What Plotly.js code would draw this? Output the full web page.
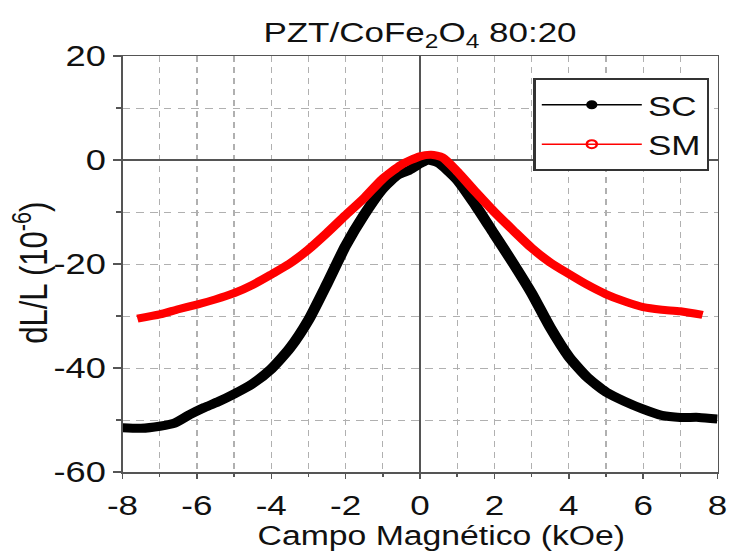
<!DOCTYPE html>
<html>
<head>
<meta charset="utf-8">
<script src="https://cdn.plot.ly/plotly-3.0.1.min.js"></script>
<style>
  html, body { margin: 0; padding: 0; background: #fff; overflow: hidden; }
  #wrap { width: 733px; height: 551px; overflow: hidden; }
  #plot { width: 586px; height: 551px; transform: scaleX(1.25); transform-origin: 0 0; }
</style>
</head>
<body>
<div id="wrap"><div id="plot"></div></div>
<script>
// Magnetic field (kOe) and dL/L (10^-6)
const fieldSC = [-8, -7.5, -7, -6.6, -6.2, -5.8, -5.4, -5, -4.5, -4, -3.5, -3, -2.5, -2, -1.5, -1, -0.6, -0.3, 0, 0.2, 0.5, 1, 1.5, 2, 2.5, 3, 3.5, 4, 4.5, 5, 5.5, 6, 6.5, 7, 7.5, 8];
const dlSC = [-51.5, -51.6, -51.2, -50.6, -49.0, -47.6, -46.4, -45.0, -43.0, -40.2, -36.2, -30.8, -23.8, -16.5, -10.5, -5.5, -2.9, -2.0, -0.7, 0, -0.6, -3.8, -8.8, -14.3, -19.8, -25.6, -32.2, -37.8, -41.8, -44.6, -46.4, -47.9, -49.1, -49.5, -49.5, -49.8];

const fieldSM = [-7.6, -7, -6.5, -6, -5.5, -5, -4.5, -4, -3.5, -3, -2.5, -2, -1.5, -1, -0.5, 0, 0.3, 0.6, 1, 1.5, 2, 2.5, 3, 3.5, 4, 4.5, 5, 5.5, 6, 6.5, 7, 7.6];
const dlSM = [-30.5, -29.7, -28.7, -27.8, -26.8, -25.6, -24.0, -22.0, -19.9, -17.2, -14.0, -10.6, -7.3, -3.6, -0.9, 0.7, 1.0, 0.5, -2.2, -6.2, -10.0, -13.5, -16.9, -19.7, -21.9, -24.0, -25.8, -27.2, -28.3, -28.8, -29.1, -29.8];

const xTickVals = [-8, -6, -4, -2, 0, 2, 4, 6, 8];
const xTickText = ['-8', '-6', '-4', '-2', '0', '2', '4', '6', '8'];
const yTickVals = [-60, -40, -20, 0, 20];
const yTickText = ['-60', '-40', '-20', '0', '20'];

const seriesNames = ['SC', 'SM'];
const titleText = 'PZT/CoFe<sub>2</sub>O<sub>4</sub> 80:20';
const xTitle = 'Campo Magnético (kOe)';
const yTitle = 'dL/L (10<sup>-6</sup>)';

const FONT = 'Liberation Sans, Arial, Helvetica, sans-serif';

const traces = [
  {x: fieldSC, y: dlSC, mode: 'lines', line: {color: '#000', width: 9, shape: 'spline', smoothing: 0.6},
   showlegend: false, hoverinfo: 'skip'},
  {x: fieldSM, y: dlSM, mode: 'lines', line: {color: '#ff0000', width: 8, shape: 'spline', smoothing: 0.6},
   showlegend: false, hoverinfo: 'skip'},
  {x: [null], y: [null], mode: 'lines+markers', name: seriesNames[0],
   line: {color: '#000', width: 1.5}, marker: {color: '#000', size: 9, symbol: 'circle'}},
  {x: [null], y: [null], mode: 'lines+markers', name: seriesNames[1],
   line: {color: '#ff0000', width: 1.5}, marker: {color: '#ff0000', size: 8, symbol: 'circle-open', line: {width: 2, color: '#ff0000'}}}
];

const gridCol = '#b0b0b0';
const layout = {
  width: 586, height: 551,
  margin: {l: 97.6, r: 12, t: 56, b: 79, pad: 0},
  paper_bgcolor: '#fff', plot_bgcolor: '#fff',
  font: {family: FONT, color: '#111'},
  showlegend: true,
  title: {text: titleText, font: {family: FONT, size: 28, color: '#111'},
          x: 0.5, xref: 'paper', xanchor: 'center', y: 1 - 32/551, yref: 'container', yanchor: 'middle'},
  xaxis: {
    range: [-8, 8], tickmode: 'array', tickvals: xTickVals, ticktext: xTickText,
    showline: true, linecolor: '#555', linewidth: 1.5, mirror: true,
    ticks: 'outside', ticklen: 5, tickcolor: '#555', tickwidth: 1.2, ticklabelstandoff: 3,
    tickfont: {family: FONT, size: 28, color: '#111'},
    showgrid: true, gridcolor: gridCol, gridwidth: 1, griddash: '6px,5px',
    zeroline: true, zerolinecolor: '#555', zerolinewidth: 1.5,
    minor: {dtick: 1, tick0: 0, ticks: 'outside', ticklen: 3, tickcolor: '#555', showgrid: true, gridcolor: gridCol, gridwidth: 1, griddash: '6px,5px'},
    automargin: false, fixedrange: true
  },
  yaxis: {
    range: [-60, 20], tickmode: 'array', tickvals: yTickVals, ticktext: yTickText,
    showline: true, linecolor: '#555', linewidth: 1.5, mirror: true,
    ticks: 'outside', ticklen: 6, tickcolor: '#555', tickwidth: 1.2,
    tickfont: {family: FONT, size: 29, color: '#111'},
    showgrid: true, gridcolor: gridCol, gridwidth: 1, griddash: '6px,5px',
    zeroline: true, zerolinecolor: '#555', zerolinewidth: 1.5,
    minor: {dtick: 10, tick0: 0, ticks: 'outside', ticklen: 4, tickcolor: '#555', showgrid: true, gridcolor: gridCol, gridwidth: 1, griddash: '6px,5px'},
    automargin: false, fixedrange: true
  },
  annotations: [
    {text: xTitle, xref: 'paper', yref: 'paper', x: 0.535, y: -0.154, xanchor: 'center', yanchor: 'middle',
     showarrow: false, font: {family: FONT, size: 27, color: '#111'}},
    {text: yTitle, xref: 'paper', yref: 'paper', x: -0.154, y: 0.478, xanchor: 'center', yanchor: 'middle',
     textangle: -90, showarrow: false, font: {family: FONT, size: 31, color: '#111'}}
  ],
  legend: {
    x: 0.69, y: 0.947, xanchor: 'left', yanchor: 'top',
    bgcolor: '#fff', bordercolor: '#333', borderwidth: 2,
    font: {family: FONT, size: 28, color: '#111'},
    itemwidth: 80, traceorder: 'normal', tracegroupgap: 0
  }
};

Plotly.newPlot('plot', traces, layout, {staticPlot: true, displayModeBar: false});
</script>
</body>
</html>
